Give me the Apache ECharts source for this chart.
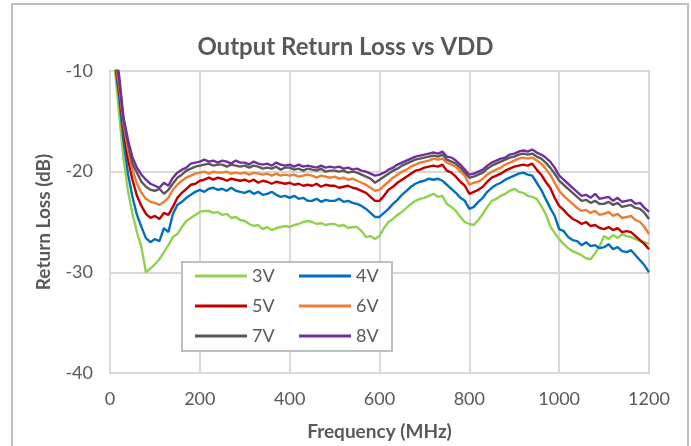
<!DOCTYPE html>
<html>
<head>
<meta charset="utf-8">
<script src="https://cdn.jsdelivr.net/npm/echarts@6/dist/echarts.min.js"></script>
<style>html,body{margin:0;padding:0;background:#fff;}#c{width:691px;height:446px;}</style>
</head>
<body>
<div id="c"></div>
<script>
var freq = [
  0,10,20,30,40,50,60,70,80,90,
  100,110,120,130,140,150,160,170,180,190,
  200,210,220,230,240,250,260,270,280,290,
  300,310,320,330,340,350,360,370,380,390,
  400,410,420,430,440,450,460,470,480,490,
  500,510,520,530,540,550,560,570,580,590,
  600,610,620,630,640,650,660,670,680,690,
  700,710,720,730,740,750,760,770,780,790,
  800,810,820,830,840,850,860,870,880,890,
  900,910,920,930,940,950,960,970,980,990,
  1000,1010,1020,1030,1040,1050,1060,1070,1080,1090,
  1100,1110,1120,1130,1140,1150,1160,1170,1180,1190,
  1200
];
var seriesNames = ['3V','4V','5V','6V','7V','8V'];
var xTicks = [0,200,400,600,800,1000,1200];
var yTicks = [-40,-30,-20,-10];

var v3 = [
  -4,-9.4,-14.1,-18.7,-21.9,-24.2,-26.0,-27.5,-30.0,-29.6,
  -29.2,-28.7,-28.0,-27.3,-26.5,-26.2,-25.5,-24.9,-24.6,-24.3,
  -24.0,-23.9,-23.9,-24.1,-24.0,-24.3,-24.2,-24.6,-24.5,-24.8,
  -24.9,-25.2,-25.4,-25.3,-25.7,-25.5,-25.8,-25.6,-25.5,-25.4,
  -25.5,-25.3,-25.2,-25.0,-24.9,-25.0,-25.2,-25.1,-25.3,-25.2,
  -25.2,-25.4,-25.3,-25.6,-25.5,-25.5,-25.9,-26.5,-26.4,-26.7,
  -26.4,-25.6,-25.0,-24.7,-24.3,-24.0,-23.6,-23.2,-22.9,-22.7,
  -22.6,-22.4,-22.2,-22.5,-22.4,-23.2,-23.5,-23.9,-24.5,-25.0,
  -25.2,-25.3,-24.8,-24.2,-23.5,-22.9,-22.7,-22.4,-22.2,-21.9,
  -21.7,-22.0,-22.1,-22.4,-22.5,-22.7,-23.4,-24.2,-25.4,-26.1,
  -26.7,-27.2,-27.6,-27.9,-28.1,-28.3,-28.6,-28.7,-28.1,-27.4,
  -26.4,-26.7,-26.3,-26.6,-26.2,-26.4,-26.5,-26.7,-26.9,-27.0,
  -27.2
];
var v4 = [
  -5,-8.8,-12.4,-16.9,-20.2,-22.5,-24.3,-25.5,-26.6,-27.0,
  -26.7,-26.9,-25.6,-26.0,-24.2,-23.3,-23.0,-22.6,-22.3,-22.0,
  -21.8,-22.0,-21.7,-21.6,-21.8,-21.7,-21.9,-21.6,-21.9,-22.0,
  -22.1,-21.9,-22.2,-22.0,-22.3,-22.2,-22.0,-22.3,-22.5,-22.4,
  -22.6,-22.4,-22.7,-22.6,-22.9,-22.9,-22.7,-23.0,-22.8,-22.9,
  -22.9,-22.7,-23.0,-22.9,-23.1,-23.2,-23.4,-23.7,-24.1,-24.5,
  -24.5,-24.1,-23.7,-23.2,-22.8,-22.3,-21.9,-21.5,-21.2,-21.0,
  -20.9,-20.7,-20.8,-20.7,-20.9,-21.3,-21.7,-22.1,-22.6,-22.9,
  -23.7,-23.5,-23.0,-22.6,-22.0,-21.6,-21.3,-21.1,-20.8,-20.6,
  -20.4,-20.2,-20.1,-20.3,-20.4,-21.1,-21.8,-22.7,-23.6,-24.4,
  -25.7,-25.9,-26.5,-26.8,-26.9,-27.3,-27.0,-27.4,-27.3,-27.6,
  -27.5,-27.2,-27.7,-27.5,-27.9,-28.0,-27.8,-28.3,-28.8,-29.3,
  -30.0
];
var v5 = [
  -5,-8.6,-11.8,-15.8,-18.8,-20.8,-22.4,-23.4,-24.2,-24.6,
  -24.4,-24.7,-24.1,-24.3,-23.5,-22.6,-22.1,-21.7,-21.3,-21.2,
  -20.9,-20.8,-20.6,-20.8,-20.6,-20.7,-20.9,-20.7,-20.8,-20.9,
  -20.8,-21.0,-20.8,-21.1,-20.9,-21.0,-21.2,-21.0,-21.1,-21.2,
  -21.1,-21.3,-21.2,-21.4,-21.3,-21.4,-21.2,-21.5,-21.3,-21.4,
  -21.4,-21.6,-21.5,-21.4,-21.6,-21.7,-21.9,-22.1,-22.5,-22.9,
  -22.9,-22.4,-21.8,-21.5,-21.1,-20.8,-20.5,-20.2,-19.9,-19.8,
  -19.6,-19.5,-19.4,-19.5,-19.3,-19.9,-20.1,-20.5,-21.0,-21.4,
  -22.2,-22.0,-21.8,-21.5,-21.0,-20.6,-20.4,-20.2,-19.9,-19.7,
  -19.5,-19.4,-19.3,-19.4,-19.2,-19.8,-20.3,-21.0,-21.6,-22.6,
  -23.4,-23.8,-24.3,-24.7,-24.9,-25.2,-25.0,-25.4,-25.3,-25.6,
  -25.7,-25.5,-25.8,-25.6,-26.0,-25.9,-26.0,-26.4,-26.8,-27.2,
  -27.7
];
var v6 = [
  -5,-8.4,-11.3,-15.2,-17.8,-19.8,-21.2,-22.1,-22.7,-23.0,
  -23.1,-23.3,-23.0,-22.6,-21.8,-21.3,-20.9,-20.6,-20.4,-20.2,
  -20.1,-20.0,-20.2,-20.0,-20.1,-20.1,-20.0,-20.2,-20.1,-20.2,
  -20.1,-20.3,-20.1,-20.2,-20.3,-20.2,-20.4,-20.2,-20.4,-20.3,
  -20.4,-20.3,-20.5,-20.4,-20.3,-20.4,-20.6,-20.4,-20.5,-20.6,
  -20.5,-20.7,-20.6,-20.8,-20.7,-20.9,-21.1,-21.3,-21.6,-21.9,
  -21.8,-21.4,-21.0,-20.6,-20.3,-20.0,-19.8,-19.5,-19.3,-19.1,
  -19.0,-18.9,-18.7,-18.8,-18.7,-19.1,-19.3,-19.5,-20.0,-20.4,
  -21.3,-21.1,-21.0,-20.7,-20.3,-20.0,-19.8,-19.6,-19.3,-19.1,
  -18.9,-18.7,-18.6,-18.7,-18.6,-18.9,-19.2,-19.7,-20.3,-21.1,
  -21.9,-22.4,-22.8,-23.2,-23.6,-23.9,-23.8,-24.1,-23.9,-24.3,
  -24.2,-24.0,-24.4,-24.2,-24.6,-24.5,-24.4,-24.8,-25.0,-25.5,
  -26.2
];
var v7 = [
  -5,-8.2,-10.8,-14.9,-17.2,-19.2,-20.1,-21.0,-21.5,-21.8,
  -21.9,-21.7,-22.2,-21.8,-21.2,-20.6,-20.3,-19.9,-19.7,-19.5,
  -19.4,-19.3,-19.2,-19.4,-19.3,-19.3,-19.5,-19.3,-19.4,-19.5,
  -19.4,-19.6,-19.4,-19.5,-19.7,-19.6,-19.7,-19.5,-19.8,-19.6,
  -19.6,-19.8,-19.7,-19.9,-19.7,-19.8,-19.9,-19.7,-20.0,-19.9,
  -19.9,-20.0,-19.9,-20.1,-20.0,-20.1,-20.3,-20.5,-20.7,-21.1,
  -20.8,-20.5,-20.2,-19.9,-19.7,-19.4,-19.2,-19.0,-18.8,-18.7,
  -18.6,-18.5,-18.4,-18.5,-18.3,-18.8,-19.0,-19.2,-19.6,-20.1,
  -20.6,-20.5,-20.3,-20.1,-19.7,-19.4,-19.2,-19.0,-18.8,-18.6,
  -18.5,-18.3,-18.2,-18.3,-18.2,-18.5,-18.7,-19.1,-19.6,-20.2,
  -20.9,-21.3,-21.7,-22.1,-22.5,-22.9,-22.8,-23.1,-22.9,-23.2,
  -23.2,-23.0,-23.3,-23.1,-23.5,-23.4,-23.3,-23.6,-23.7,-24.1,
  -24.7
];
var v8 = [
  -5,-8.0,-10.3,-14.6,-16.8,-18.6,-19.6,-20.3,-20.8,-21.2,
  -21.4,-21.6,-21.1,-21.4,-20.6,-20.1,-19.8,-19.6,-19.2,-19.1,
  -19.0,-18.8,-19.0,-18.9,-19.1,-18.9,-19.0,-19.2,-18.9,-19.1,
  -19.1,-19.3,-19.0,-19.2,-19.3,-19.2,-19.4,-19.1,-19.3,-19.4,
  -19.3,-19.5,-19.3,-19.5,-19.4,-19.5,-19.6,-19.4,-19.6,-19.5,
  -19.6,-19.5,-19.7,-19.6,-19.8,-19.7,-19.9,-20.0,-20.2,-20.4,
  -20.3,-20.1,-19.8,-19.6,-19.3,-19.1,-18.9,-18.7,-18.5,-18.4,
  -18.3,-18.2,-18.1,-18.2,-18.0,-18.5,-18.6,-18.9,-19.3,-19.8,
  -20.3,-20.2,-20.0,-19.8,-19.4,-19.1,-18.9,-18.7,-18.6,-18.3,
  -18.2,-18.0,-17.9,-18.0,-17.8,-18.1,-18.3,-18.6,-19.0,-19.6,
  -20.4,-20.8,-21.2,-21.6,-22.0,-22.4,-22.3,-22.6,-22.2,-22.7,
  -22.6,-22.5,-22.9,-22.6,-23.0,-22.9,-22.8,-23.2,-23.1,-23.6,
  -24.0
];

var values = [v3, v4, v5, v6, v7, v8];
var colors = ['#92d050','#0070c0','#c00000','#ed7d31','#595959','#7030a0'];
var FONT = 'Lato';
var TXT = '#595959';

function pairs(arr){ return freq.map(function(f,i){ return [f, arr[i]]; }); }

var series = seriesNames.map(function(n, i){
  return {
    name: n, type: 'line', data: pairs(values[i]),
    showSymbol: false, symbol: 'none', smooth: false, clip: true,
    lineStyle: {color: colors[i], width: 2.4},
    itemStyle: {color: colors[i]},
    z: 2
  };
});

var legendCommon = {
  orient: 'vertical', icon: 'rect', itemWidth: 52, itemHeight: 3, itemGap: 12,
  padding: 0, top: 267, z: 10,
  textStyle: {fontFamily: FONT, fontSize: 18, color: TXT, padding: [0,0,0,0]}
};

var chart = echarts.init(document.getElementById('c'), null, {renderer: 'canvas'});
chart.setOption({
  animation: false,
  backgroundColor: '#ffffff',
  color: colors,
  title: {
    text: 'Output Return Loss vs VDD', left: 'center', top: 30,
    textStyle: {fontFamily: FONT, fontSize: 24, fontWeight: 'bold', color: TXT}
  },
  grid: {left: 110, right: 42, top: 71, bottom: 72, show: true, borderColor: '#bfbfbf', borderWidth: 2, backgroundColor: 'transparent'},
  xAxis: {
    type: 'value', min: xTicks[0], max: xTicks[xTicks.length-1], interval: 200,
    name: 'Frequency (MHz)', nameLocation: 'middle', nameGap: 49,
    nameTextStyle: {fontFamily: FONT, fontSize: 19, fontWeight: 'bold', color: TXT},
    axisLine: {show: false}, axisTick: {show: false},
    axisLabel: {fontFamily: FONT, fontSize: 18, color: TXT, margin: 17, formatter: function(v){ return String(v); }},
    splitLine: {show: true, lineStyle: {color: '#d9d9d9', width: 2}}
  },
  yAxis: {
    type: 'value', min: yTicks[0], max: yTicks[yTicks.length-1], interval: 10,
    name: 'Return Loss (dB)', nameLocation: 'middle', nameGap: 57, nameRotate: 90,
    nameTextStyle: {fontFamily: FONT, fontSize: 19, fontWeight: 'bold', color: TXT},
    axisLine: {show: false}, axisTick: {show: false},
    axisLabel: {fontFamily: FONT, fontSize: 18, color: TXT, margin: 17, formatter: function(v){ return String(v); }},
    splitLine: {show: true, lineStyle: {color: '#d9d9d9', width: 2}}
  },
  legend: [
    Object.assign({}, legendCommon, {left: 195, data: ['3V','5V','7V']}),
    Object.assign({}, legendCommon, {left: 299, data: ['4V','6V','8V']})
  ],
  graphic: [
    {type: 'rect', z: -1, silent: true, shape: {x: 12, y: 4, width: 676, height: 452}, style: {fill: 'none', stroke: '#bfbfbf', lineWidth: 2}},
    {type: 'rect', z: 5, silent: true, shape: {x: 182, y: 262, width: 210, height: 89}, style: {fill: '#ffffff', stroke: '#bfbfbf', lineWidth: 2}}
  ],
  series: series
});
</script>
</body>
</html>
